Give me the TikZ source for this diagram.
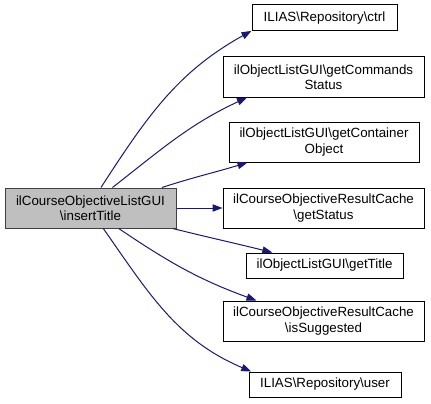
\documentclass[tikz,border=0pt]{standalone}
\usepackage{fontspec}
\setmainfont{Liberation Sans}
\usetikzlibrary{arrows.meta}
\definecolor{edgec}{HTML}{191970}
\definecolor{mainfill}{HTML}{BFBFBF}
\definecolor{mainborder}{HTML}{404040}
\begin{document}
\begin{tikzpicture}[x=0.75pt,y=-0.75pt,
  fnbox/.style={draw=black, line width=0.75pt, fill=white, inner sep=0pt, align=center,
    font=\fontsize{10}{11.5}\selectfont},
  mainbox/.style={fnbox, draw=mainborder, fill=mainfill},
  edge/.style={draw=edgec, line width=0.75pt, -{Triangle[length=7.5pt,width=5.5pt]}}]
\useasboundingbox (0,0) rectangle (431,403);

\node[mainbox, minimum width=171*0.75pt, minimum height=40*0.75pt] (main) at (90.5,208)
  {ilCourseObjectiveListGUI\\\textbackslash insertTitle};

\node[fnbox, minimum width=145*0.75pt, minimum height=26*0.75pt] (ctrl) at (324.5,18)
  {ILIAS\textbackslash Repository\textbackslash ctrl};
\node[fnbox, minimum width=201*0.75pt, minimum height=40*0.75pt] (cmd) at (323.5,77)
  {ilObjectListGUI\textbackslash getCommands\\Status};
\node[fnbox, minimum width=190*0.75pt, minimum height=40*0.75pt] (cont) at (324,142)
  {ilObjectListGUI\textbackslash getContainer\\Object};
\node[fnbox, minimum width=201*0.75pt, minimum height=40*0.75pt] (stat) at (323.5,208)
  {ilCourseObjectiveResultCache\\\textbackslash getStatus};
\node[fnbox, minimum width=157*0.75pt, minimum height=25*0.75pt] (title) at (324.5,265.5)
  {ilObjectListGUI\textbackslash getTitle};
\node[fnbox, minimum width=201*0.75pt, minimum height=40*0.75pt] (sugg) at (323.5,321)
  {ilCourseObjectiveResultCache\\\textbackslash isSuggested};
\node[fnbox, minimum width=152*0.75pt, minimum height=25*0.75pt] (user) at (325,384.5)
  {ILIAS\textbackslash Repository\textbackslash user};

\draw[edge] (main.63) to[out=57,in=209] (ctrl.190);
\draw[edge] (main.43) to[out=38,in=205] (cmd.195);
\draw[edge] (main.16) to[out=18,in=197] (cont.195);
\draw[edge] (main.east) -- (stat.west);
\draw[edge] (main.-14) to[out=-14,in=166] (title.166);
\draw[edge] (main.-36) to[out=-34,in=160] (sugg.163);
\draw[edge] (main.-58) to[out=-55,in=157] (user.170);
\end{tikzpicture}
\end{document}
